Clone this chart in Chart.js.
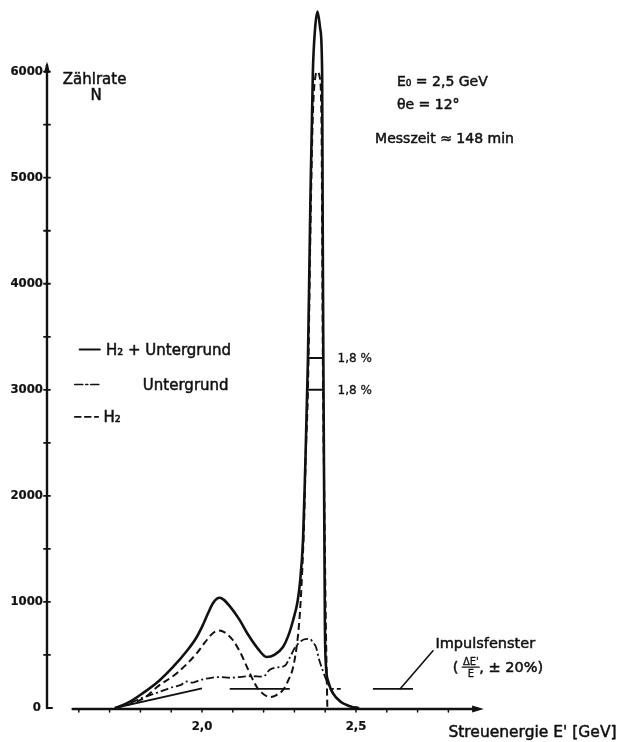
<!DOCTYPE html>
<html lang="de">
  <head>
    <meta charset="UTF-8" />
    <title>Streuspektrum H2</title>
    <style>
      html, body { margin: 0; padding: 0; background: #fff; }
      canvas { display: block; }
    </style>
  </head>
  <body>
    <canvas id="chart" width="622" height="742"></canvas>
    <script src="https://cdn.jsdelivr.net/npm/chart.js"></script>
    <script>
      // Streuenergie E' [GeV] / Zählrate N
      const sumCurve = [
        [1.717, 0], [1.76, 50], [1.808, 140], [1.86, 255], [1.906, 387],
        [1.95, 535], [1.98, 655], [2.0, 765], [2.02, 895], [2.035, 985],
        [2.048, 1030], [2.058, 1040], [2.07, 1022], [2.09, 960], [2.12, 840],
        [2.15, 690], [2.18, 565], [2.21, 481], [2.235, 500], [2.263, 575],
        [2.28, 680], [2.296, 830], [2.31, 1000], [2.318, 1180], [2.328, 1585],
        [2.334, 2150], [2.344, 3300], [2.352, 4800], [2.36, 6000], [2.367, 6400],
        [2.375, 6566], [2.384, 6400], [2.39, 6000], [2.392, 4500], [2.394, 3300],
        [2.397, 1800], [2.399, 800], [2.402, 420], [2.41, 250], [2.425, 140],
        [2.45, 60], [2.47, 28], [2.49, 8], [2.51, 0],
      ];
      const h2Curve = [
        [1.72, 0], [1.78, 50], [1.82, 110], [1.854, 198], [1.919, 330],
        [1.984, 519], [2.01, 620], [2.036, 707], [2.055, 730], [2.075, 710],
        [2.1, 641], [2.125, 520], [2.146, 387], [2.178, 198], [2.2, 130],
        [2.22, 104], [2.24, 120], [2.263, 170], [2.28, 260], [2.296, 387],
        [2.31, 641], [2.318, 900], [2.325, 1270], [2.332, 1800], [2.337, 2400],
        [2.344, 3000], [2.352, 4500], [2.36, 5600], [2.368, 5950], [2.375, 6000],
        [2.382, 5950], [2.388, 5500], [2.391, 4000], [2.393, 3000], [2.397, 2000],
        [2.401, 1000], [2.404, 450], [2.406, 150], [2.407, 0],
      ];
      const bkgCurve = [
        [1.72, 0], [1.76, 40], [1.81, 100], [1.86, 150], [1.906, 198],
        [1.93, 215], [1.95, 250], [1.97, 240], [1.994, 264], [2.03, 285],
        [2.058, 292], [2.09, 285], [2.123, 292], [2.16, 300], [2.198, 295],
        [2.22, 360], [2.25, 385], [2.27, 400], [2.286, 481], [2.3, 560],
        [2.318, 623], [2.335, 650], [2.35, 651], [2.36, 620], [2.37, 575],
        [2.38, 460], [2.39, 370], [2.4, 290], [2.41, 220], [2.425, 140],
        [2.45, 60], [2.47, 28], [2.51, 0],
      ];
      // Impulsfenster markers (null = gap)
      const windowSolid = [
        [1.717, 0], [2.0, 185], [2.0, null],
        [2.09, 180], [2.285, 180], [2.285, null],
        [2.555, 180], [2.685, 180],
      ];
      const windowDashed = [[2.415, 180], [2.455, 180]];
      // half-maximum bars across the main peak
      const halfMax = [3300, 3000];
      const halfMaxLabels = ["1,8 %", "1,8 %"];

      const yTicks = [0, 500, 1000, 1500, 2000, 2500, 3000, 3500, 4000, 4500, 5000, 5500, 6000];
      const yTickLabels = ["0", "", "1000", "", "2000", "", "3000", "", "4000", "", "5000", "", "6000"];
      const xTicks = [1.6, 1.7, 1.8, 1.9, 2.0, 2.1, 2.2, 2.3, 2.4, 2.5, 2.6, 2.7, 2.8];
      const xTickLabels = { "2": "2,0", "2.5": "2,5" };

      const INK = "#111";
      const toXY = (pts) => pts.map(([x, y]) => ({ x, y }));

      const paperAxes = {
        id: "paperAxes",
        afterDatasetsDraw(chart) {
          const { ctx, scales } = chart;
          const X = (v) => scales.x.getPixelForValue(v);
          const Y = (v) => scales.y.getPixelForValue(v);
          ctx.save();
          ctx.strokeStyle = INK;
          ctx.fillStyle = INK;
          ctx.lineCap = "round";
          ctx.lineJoin = "round";

          const line = (x1, y1, x2, y2, w) => {
            ctx.lineWidth = w;
            ctx.beginPath();
            ctx.moveTo(x1, y1);
            ctx.lineTo(x2, y2);
            ctx.stroke();
          };
          // lettering is a bit heavier than the regular face
          const text = (s, x, y, weight = 0.5) => {
            ctx.fillText(s, x, y);
            ctx.lineWidth = weight;
            ctx.strokeText(s, x, y);
          };

          // y axis with foot and arrow
          const ax = X(1.5) - 1;
          line(ax, Y(0), ax, Y(6060), 2.4);
          line(ax, Y(0), ax + 5, Y(0), 2);
          ctx.beginPath();
          ctx.moveTo(ax, Y(6095));
          ctx.lineTo(ax - 3, Y(5990));
          ctx.lineTo(ax + 3, Y(5990));
          ctx.closePath();
          ctx.fill();
          ctx.font = 'bold 13px "DejaVu Sans Condensed"';
          ctx.textAlign = "right";
          ctx.textBaseline = "middle";
          yTicks.forEach((t, i) => {
            if (t > 0) line(ax - 3, Y(t), ax + 3, Y(t), 1.8);
            const lbl = yTickLabels[i];
            if (lbl) text(lbl, t === 0 ? ax - 6 : ax - 4, Y(t), 0.2);
          });

          // x axis with arrow
          const ay = Y(0) + 1;
          line(X(1.58), ay, X(2.88), ay, 2.4);
          ctx.beginPath();
          ctx.moveTo(X(2.915), ay);
          ctx.lineTo(X(2.877), ay - 3.5);
          ctx.lineTo(X(2.877), ay + 3.5);
          ctx.closePath();
          ctx.fill();
          ctx.textAlign = "center";
          ctx.textBaseline = "alphabetic";
          xTicks.forEach((t) => {
            line(X(t), ay, X(t), ay + 3, 1.5);
            const lbl = xTickLabels[String(t)];
            if (lbl) text(lbl, X(t), ay + 21, 0.2);
          });

          // half-maximum bars
          halfMax.forEach((v, i) => {
            line(X(2.344), Y(v), X(2.392), Y(v), 2);
            ctx.font = '12px "DejaVu Sans"';
            ctx.textAlign = "left";
            text(halfMaxLabels[i], X(2.44), Y(v) + 4, 0.3);
          });

          // axis titles
          ctx.textAlign = "left";
          ctx.font = '15px "DejaVu Sans"';
          text("Zählrate", X(1.548), Y(5880));
          ctx.textAlign = "center";
          text("N", X(1.656), Y(5810) + 8);
          ctx.textAlign = "left";
          ctx.font = '15.5px "DejaVu Sans"';
          text("Streuenergie E' [GeV]", X(2.80), ay + 28);

          // run conditions
          ctx.font = '14px "DejaVu Sans"';
          text("E\u2080 = 2,5 GeV", X(2.633), Y(5865));
          text("\u03b8e = 12\u00b0", X(2.633), Y(5650));
          text("Messzeit \u2248 148 min", X(2.562), Y(5330));

          // legend
          ctx.font = '15px "DejaVu Sans"';
          line(X(1.603), Y(3380), X(1.668), Y(3380), 2.2);
          text("H\u2082 + Untergrund", X(1.688), Y(3380) + 5);
          ctx.setLineDash([8, 3, 2, 3]);
          line(X(1.587), Y(3050), X(1.668), Y(3050), 1.6);
          ctx.setLineDash([6, 4]);
          line(X(1.587), Y(2745), X(1.663), Y(2745), 1.8);
          ctx.setLineDash([]);
          text("Untergrund", X(1.808), Y(3050) + 5);
          text("H\u2082", X(1.68), Y(2745) + 5);

          // Impulsfenster label with leader
          line(X(2.643), Y(180), X(2.75), Y(540), 1.6);
          ctx.font = '14.5px "DejaVu Sans"';
          text("Impulsfenster", X(2.758), Y(570));
          text("(", X(2.814), Y(340));
          ctx.font = '10px "DejaVu Sans"';
          ctx.textAlign = "center";
          text("\u0394E'", X(2.873), Y(410), 0.3);
          text("E", X(2.873), Y(290), 0.3);
          line(X(2.845), Y(385), X(2.9), Y(385), 1.4);
          ctx.textAlign = "left";
          ctx.font = '14.5px "DejaVu Sans"';
          text(", \u00b1 20%)", X(2.9), Y(340));

          ctx.restore();
        },
      };

      new Chart(document.getElementById("chart"), {
        type: "line",
        data: {
          datasets: [
            {
              label: "H\u2082 + Untergrund",
              data: toXY(sumCurve),
              borderColor: INK,
              borderWidth: 2.6,
              cubicInterpolationMode: "monotone",
            },
            {
              label: "Untergrund",
              data: toXY(bkgCurve),
              borderColor: INK,
              borderWidth: 1.8,
              borderDash: [8, 3, 2, 3],
              cubicInterpolationMode: "monotone",
            },
            {
              label: "H\u2082",
              data: toXY(h2Curve),
              borderColor: INK,
              borderWidth: 2,
              borderDash: [7, 4],
              cubicInterpolationMode: "monotone",
            },
            {
              label: "Impulsfenster",
              data: toXY(windowSolid),
              borderColor: INK,
              borderWidth: 1.8,
              tension: 0,
            },
            {
              label: "Impulsfenster (gestrichelt)",
              data: toXY(windowDashed),
              borderColor: INK,
              borderWidth: 1.6,
              borderDash: [4, 3],
              tension: 0,
            },
          ],
        },
        options: {
          responsive: false,
          animation: false,
          spanGaps: false,
          elements: { point: { radius: 0 } },
          layout: { padding: { left: 48, right: 112, top: 8, bottom: 34 } },
          scales: {
            x: { type: "linear", min: 1.5, max: 3.0, display: false },
            y: { type: "linear", min: 0, max: 6600, display: false },
          },
          plugins: { legend: { display: false }, tooltip: { enabled: false } },
        },
        plugins: [paperAxes],
      });
    </script>
  </body>
</html>
